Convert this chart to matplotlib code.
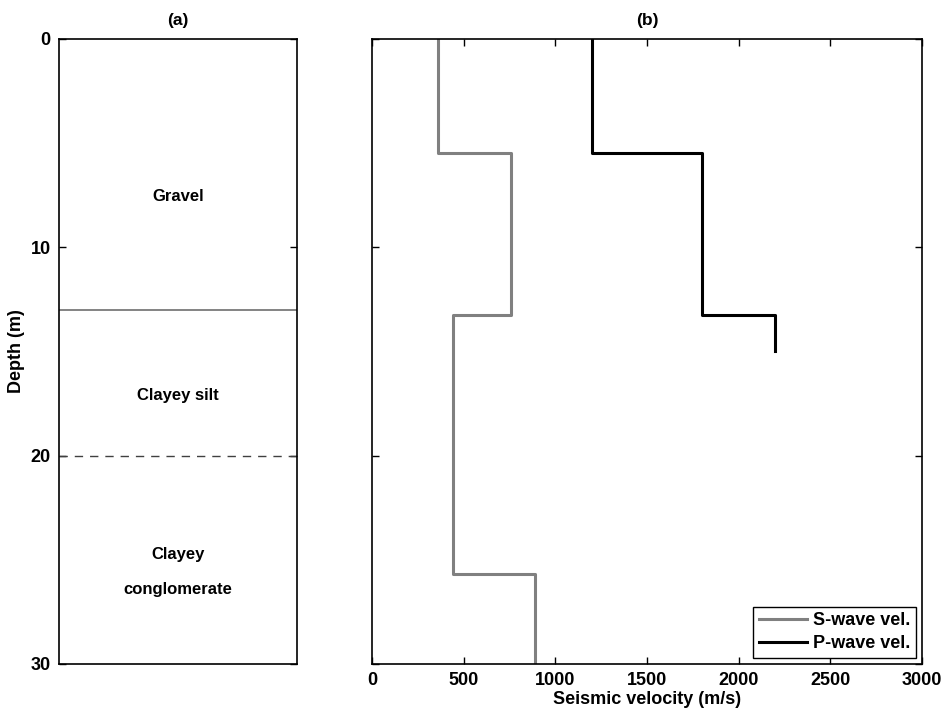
import numpy as np
import matplotlib
matplotlib.use("Agg")
import matplotlib.pyplot as plt

plt.rcParams['font.family'] = ['Liberation Sans', 'DejaVu Sans']
plt.rcParams['font.weight'] = 'bold'

# Data
s_depth_edges = [0, 5.5, 13.25, 25.7, 30]
s_velocity = [360, 760, 440, 890]
p_depth_edges = [0, 5.5, 13.25, 15]
p_velocity = [1200, 1800, 2200]
layer_bounds = [13, 20]
layer_labels = ["Gravel", "Clayey silt", "Clayey\n\nconglomerate"]
layer_label_depth = [7.6, 17.1, 25.6]
depth_ticks = [0, 10, 20, 30]
vel_ticks = [0, 500, 1000, 1500, 2000, 2500, 3000]


def step_profile(edges, vals):
    y = np.repeat(edges, 2)[1:-1]
    x = np.repeat(vals, 2)
    return x, y


fig = plt.figure(figsize=(9.44, 7.10), dpi=100)
ax_a = fig.add_axes([59/944, 1-664/710, 238/944, 625.5/710])
ax_b = fig.add_axes([372/944, 1-664/710, 550/944, 625.5/710])

for ax in (ax_a, ax_b):
    ax.set_ylim(30, 0)
    ax.set_yticks(depth_ticks)
    ax.tick_params(direction='in', top=True, right=True, length=5,
                   width=1, labelsize=13, pad=6)
    for sp in ax.spines.values():
        sp.set_linewidth(1.2)

# Panel (a)
ax_a.set_xlim(0, 1)
ax_a.set_xticks([])
ax_a.axhline(layer_bounds[0], color='#6e6e6e', lw=1.2)
ax_a.axhline(layer_bounds[1], color='#404040', lw=1.0, ls=(0, (6, 5)))
for lbl, d in zip(layer_labels, layer_label_depth):
    ax_a.text(0.5, d, lbl, ha='center', va='center', fontsize=12,
              fontweight='bold')
ax_a.set_ylabel("Depth (m)", fontsize=13, fontweight='bold', labelpad=4)
ax_a.set_title("(a)", fontsize=12.5, fontweight='bold', pad=10)

# Panel (b)
sx, sy = step_profile(s_depth_edges, s_velocity)
px, py = step_profile(p_depth_edges, p_velocity)
ax_b.plot(sx, sy, color='#808080', lw=2.2, label='S-wave vel.')
ax_b.plot(px, py, color='black', lw=2.2, label='P-wave vel.')
ax_b.set_xlim(0, 3000)
ax_b.set_xticks(vel_ticks)
ax_b.set_yticklabels([])
ax_b.set_xlabel("Seismic velocity (m/s)", fontsize=13, fontweight='bold',
                labelpad=1)
ax_b.set_title("(b)", fontsize=12.5, fontweight='bold', pad=10)
leg = ax_b.legend(loc='lower right', fancybox=False, framealpha=1,
                  edgecolor='black', prop={'size': 13, 'weight': 'bold'},
                  borderaxespad=0.35, handlelength=2.7, handletextpad=0.3,
                  borderpad=0.3, labelspacing=0.35)
leg.get_frame().set_linewidth(1.0)

fig.savefig("out.png", dpi=100)
